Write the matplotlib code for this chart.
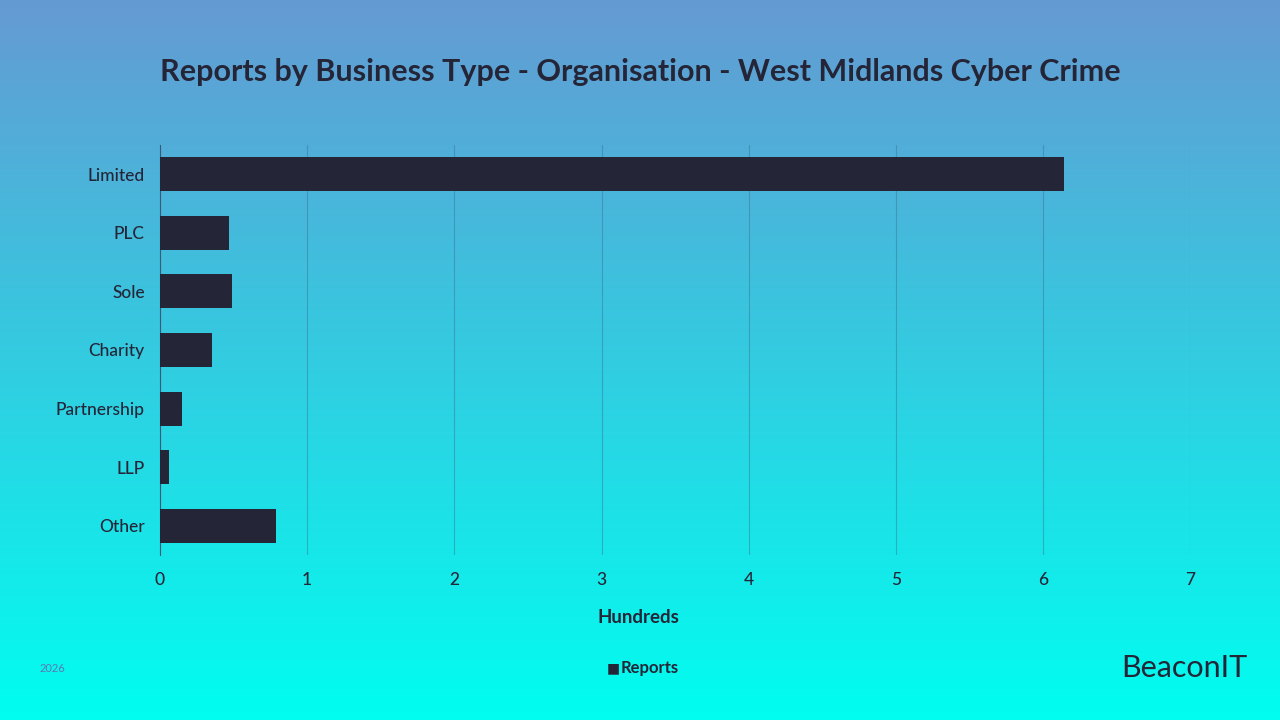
import matplotlib
matplotlib.use("Agg")
import matplotlib.pyplot as plt
import numpy as np
from matplotlib.colors import LinearSegmentedColormap

plt.rcParams['font.family'] = ['Lato', 'DejaVu Sans']

categories = ["Limited", "PLC", "Sole", "Charity", "Partnership", "LLP", "Other"]
values = [6.14, 0.47, 0.49, 0.35, 0.15, 0.06, 0.79]
xticks = [0, 1, 2, 3, 4, 5, 6, 7]

dark = "#252538"
fig = plt.figure(figsize=(12.8, 7.2), dpi=100)
bg = fig.add_axes([0, 0, 1, 1], zorder=-10)
cmap = LinearSegmentedColormap.from_list("g", ["#659ad2", "#00fef0"])
bg.imshow(np.linspace(0, 1, 256).reshape(-1, 1), aspect="auto", cmap=cmap, extent=[0, 1, 0, 1])
bg.axis("off")

ax = fig.add_axes([0.125, 0.229, 0.805, 0.57])
ax.patch.set_alpha(0)
y = np.arange(len(categories))
ax.barh(y, values, height=0.58, color=dark, zorder=3)
ax.set_ylim(len(categories) - 0.5, -0.5)
ax.set_xlim(0, 7)
ax.set_xticks(xticks)
ax.set_yticks(y, categories)
ax.grid(axis="x", color="#3a6f90", linewidth=0.8, alpha=0.45)
for s in ["top", "right", "bottom"]:
    ax.spines[s].set_visible(False)
ax.spines["left"].set_color("#3a5a7a")
ax.tick_params(axis="y", length=0, pad=11, labelsize=12.5, labelcolor=dark)
ax.tick_params(axis="x", length=0, pad=12, labelsize=12.5, labelcolor=dark)
for lab in ax.get_yticklabels() + ax.get_xticklabels():
    lab.set_fontweight("medium")

fig.text(0.499, 0.142, "Hundreds", fontsize=13.5, color=dark, ha="center", va="center", fontweight="bold")
fig.text(0.125, 0.9, "Reports by Business Type - Organisation - West Midlands Cyber Crime",
         fontsize=22, fontweight="bold", color=dark, va="center")
fig.text(0.031, 0.072, "2026", fontsize=8, color="#5a7ab0", va="center")
fig.text(0.474, 0.072, "■", fontsize=10, color=dark, va="center")
fig.text(0.485, 0.072, "Reports", fontsize=12, color=dark, va="center", fontweight="bold")
fig.text(0.975, 0.072, "BeaconIT", fontsize=22, color=dark, va="center", ha="right")
fig.savefig("out.png", dpi=100)
